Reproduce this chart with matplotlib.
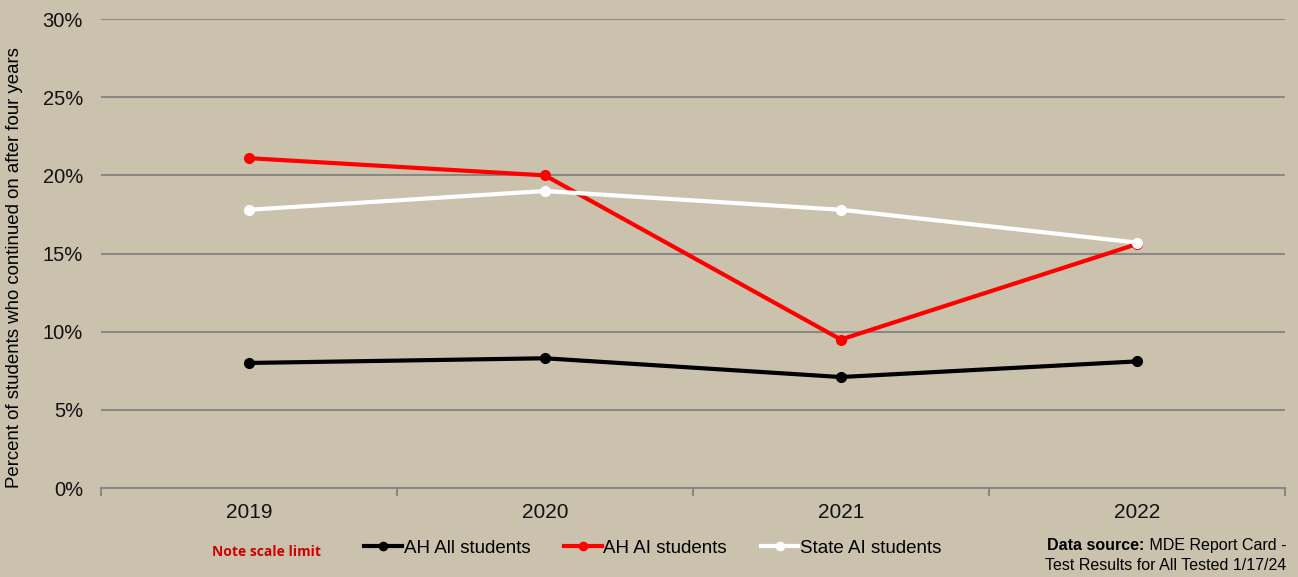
import matplotlib.pyplot as plt
import numpy as np
from matplotlib.ticker import FuncFormatter, FixedLocator

plt.rcParams['font.family'] = ['Liberation Sans', 'DejaVu Sans']

# data
years = ['2019', '2020', '2021', '2022']
ah_all = [8.0, 8.3, 7.1, 8.1]
ah_ai = [21.1, 20.0, 9.5, 15.6]
state_ai = [17.8, 19.0, 17.8, 15.7]

bg = '#cbc2ae'
grid_col = '#8a8884'

fig = plt.figure(figsize=(12.98, 5.77), dpi=100, facecolor=bg)
ax = fig.add_axes([0.0778, 0.1542, 0.912, 0.8128])
ax.set_facecolor(bg)

x = np.arange(len(years))
ax.plot(x, ah_all, color='black', lw=3, marker='o', ms=7, label='AH All students', zorder=3)
ax.plot(x, ah_ai, color='#ff0000', lw=3, marker='o', ms=7, label='AH AI students', zorder=3)
ax.plot(x, state_ai, color='white', lw=3, marker='o', ms=7, label='State AI students', zorder=4)

ax.set_xlim(-0.5, len(years) - 0.5)
ax.set_ylim(0, 30)
ax.set_yticks(np.arange(0, 31, 5))
ax.yaxis.set_major_formatter(FuncFormatter(lambda v, p: f'{v:.0f}%'))
ax.set_xticks(x)
ax.set_xticklabels(years)
ax.xaxis.set_minor_locator(FixedLocator(np.arange(-0.5, len(years), 1.0)))

ax.grid(axis='y', color=grid_col, lw=1.5)
ax.set_axisbelow(True)
for s in ['top', 'right', 'left']:
    ax.spines[s].set_visible(False)
ax.spines['bottom'].set_color(grid_col)
ax.spines['bottom'].set_linewidth(1.5)

ax.tick_params(axis='y', length=0, labelsize=14.5, pad=13, labelcolor='#111111')
ax.tick_params(axis='x', which='major', length=0, labelsize=15, pad=11, labelcolor='#111111')
ax.tick_params(axis='x', which='minor', length=6, width=1.5, color=grid_col)

ax.set_ylabel('Percent of students who continued on after four years', fontsize=13.4)
ax.yaxis.set_label_coords(-0.066, 0.47)

fig.legend(loc='center', bbox_to_anchor=(0.503, 0.05), ncol=3, frameon=False,
           fontsize=13.5, handlelength=2.0, handletextpad=0.1, columnspacing=1.8,
           markerscale=0.85)

fig.text(0.205, 0.043, 'Note scale limit', color='#d00000', fontsize=10,
         fontweight='bold', family=['Open Sans', 'DejaVu Sans'], ha='center', va='center')

# data source note, bold lead-in placed left of the regular part
src1 = fig.text(0.991, 0.055, ' MDE Report Card -', fontsize=11.5, ha='right', va='center')
fig.text(0.991, 0.02, 'Test Results for All Tested 1/17/24', fontsize=11.5,
         ha='right', va='center')
ax.annotate('Data source:', xy=(0, 0.5), xycoords=src1, fontsize=11.5,
            fontweight='bold', ha='right', va='center', annotation_clip=False)

fig.savefig('out.png', dpi=100, facecolor=bg)
